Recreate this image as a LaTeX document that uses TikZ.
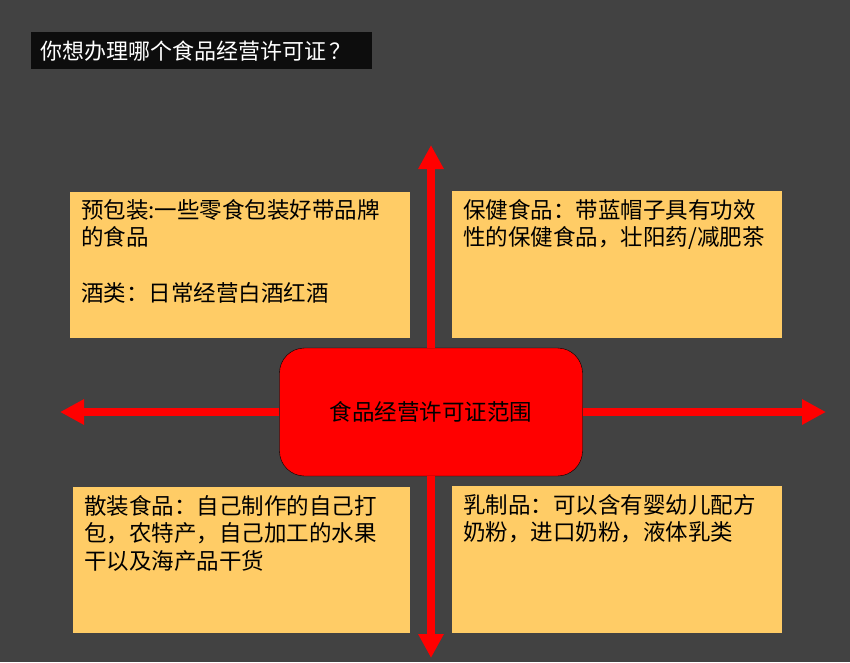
\documentclass[tikz,border=0pt]{standalone}
\usepackage{fontspec}
\setmainfont{Noto Sans CJK SC}
\usepackage{xcolor}
\usetikzlibrary{positioning,arrows.meta}
\definecolor{bgdark}{HTML}{424242}
\definecolor{cardfill}{HTML}{FFCC66}
\definecolor{titlefill}{HTML}{0D0D0D}
\tikzset{card/.style={fill=cardfill, anchor=north west, inner sep=0pt}}
\tikzset{cardtext/.style={anchor=north west, inner sep=0pt, align=left, font=\fontsize{22.5}{27.7}\selectfont}}
\tikzset{hub/.style={draw=black, fill=red, rounded corners=25pt, minimum width=303pt, minimum height=128pt, font=\fontsize{22.5}{27.5}\selectfont}}
\tikzset{axisarr/.style={draw=red, line width=8pt, -{Triangle[length=24pt, width=24pt]}}}
\begin{document}
\begin{tikzpicture}[x=1pt, y=-1pt]
    \fill[bgdark] (0,0) rectangle (850,662);
    \useasboundingbox (0,0) rectangle (850,662);
    \node[fill=titlefill, text=white, anchor=north west, inner xsep=9pt, text width=323pt, minimum height=37pt, align=left,
          font=\fontsize{22}{25}\selectfont] (question) at (31,32) {你想办理哪个食品经营许可证\,？};
    \node[hub] (scope) at (431,412) {食品经营许可证范围};
    \coordinate (upend) at (431,145);
    \coordinate (downend) at (431,658);
    \coordinate (leftend) at (60,412);
    \coordinate (rightend) at (826,412);
    \draw[axisarr] (scope.north) -- (upend);
    \draw[axisarr] (scope.south) -- (downend);
    \draw[axisarr] (scope.west) -- (leftend);
    \draw[axisarr] (scope.east) -- (rightend);
    % four cards
    \node[card, minimum width=340pt, minimum height=146pt] (prepack) at (70,192) {};
    \node[card, minimum width=330pt, minimum height=147pt] (health) at (452,191) {};
    \node[card, minimum width=337pt, minimum height=146pt] (bulk) at (73,487) {};
    \node[card, minimum width=330pt, minimum height=147pt] (dairy) at (452,486) {};
    \node[cardtext, below right=7pt and 11pt of prepack.north west] (prepacktxt)
        {预包装:一些零食包装好带品牌\\的食品\\\mbox{}\\酒类：日常经营白酒红酒};
    \node[cardtext, below right=8pt and 11pt of health.north west] (healthtxt)
        {保健食品：带蓝帽子具有功效\\性的保健食品，壮阳药/减肥茶};
    \node[cardtext, below right=8pt and 11pt of bulk.north west] (bulktxt)
        {散装食品：自己制作的自己打\\包，农特产，自己加工的水果\\干以及海产品干货};
    \node[cardtext, below right=8pt and 11pt of dairy.north west] (dairytxt)
        {乳制品：可以含有婴幼儿配方\\奶粉，进口奶粉，液体乳类};
\end{tikzpicture}
\end{document}
